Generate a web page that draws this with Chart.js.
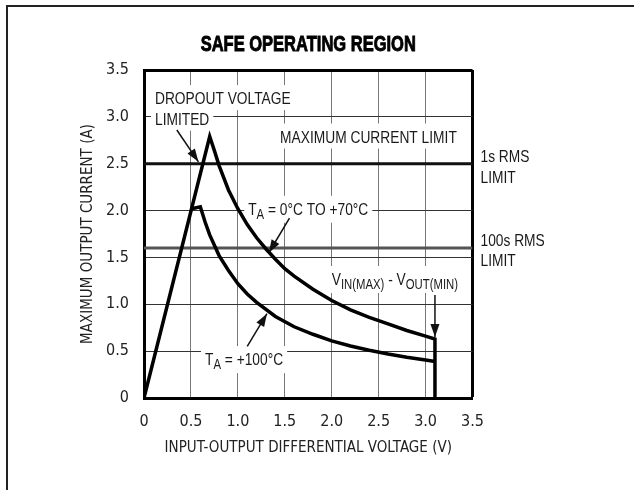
<!DOCTYPE html>
<html>
<head>
<meta charset="utf-8">
<script src="https://cdn.jsdelivr.net/npm/chart.js@4.4.1/dist/chart.umd.min.js"></script>
<style>
  body { margin: 0; background: #fff; }
  #frame { position: absolute; left: 6px; top: 5px; right: 0; bottom: 0; border-top: 2px solid #222; border-left: 2px solid #222; }
  #soa { position: absolute; left: 0; top: 0; }
</style>
</head>
<body>
<div id="frame"></div>
<canvas id="soa" width="634" height="490"></canvas>
<script>
const FONT = "'DejaVu Sans Condensed', 'Liberation Sans', sans-serif";
const NOTE_FONT = "'Liberation Sans', Arial, sans-serif";
const TITLE = "SAFE OPERATING REGION";

// axis ticks
const xTicks = [0, 0.5, 1, 1.5, 2, 2.5, 3, 3.5];
const xTickLabels = ["0", "0.5", "1.0", "1.5", "2.0", "2.5", "3.0", "3.5"];
const yTicks = [0, 0.5, 1, 1.5, 2, 2.5, 3, 3.5];
const yTickLabels = ["0", "0.5", "1.0", "1.5", "2.0", "2.5", "3.0", "3.5"];

// TA = 0C to +70C curve (V, A)
const coolV = [0, 0.70, 0.75, 0.80, 0.90, 1.00, 1.10, 1.20, 1.30, 1.40, 1.50, 1.60, 1.80, 2.00, 2.20, 2.40, 2.60, 2.80, 3.00, 3.10, 3.10];
const coolI = [0, 2.79, 2.64, 2.48, 2.22, 2.02, 1.85, 1.71, 1.59, 1.48, 1.38, 1.30, 1.16, 1.04, 0.94, 0.86, 0.79, 0.72, 0.66, 0.63, 0];

// TA = +100C curve
const hotV = [0.51, 0.60, 0.65, 0.70, 0.80, 0.90, 1.00, 1.10, 1.20, 1.40, 1.60, 1.80, 2.00, 2.20, 2.40, 2.60, 2.80, 3.00, 3.10];
const hotI = [2.02, 2.04, 1.88, 1.74, 1.52, 1.36, 1.22, 1.11, 1.02, 0.87, 0.76, 0.68, 0.61, 0.555, 0.51, 0.47, 0.435, 0.405, 0.39];

// current limits (A)
const limit1s = 2.5;
const limit100s = 1.6;

// arrows: [x0, y0, x1, y1] in data units, head at the end
const arrows = [
  [0.35, 2.86, 0.58, 2.52],
  [1.55, 1.92, 1.33, 1.55],
  [1.10, 0.55, 1.31, 0.90],
  [3.10, 1.10, 3.10, 0.65]
];

// annotations: [x, y, parts, white box]; a part is [text, isSubscript]
const notes = [
  [0.117, 3.20, [["DROPOUT VOLTAGE"]], true],
  [0.117, 2.98, [["LIMITED"]], true],
  [1.45, 2.79, [["MAXIMUM CURRENT LIMIT"]], true],
  [1.11, 2.02, [["T"], ["A", 1], [" = 0°C TO +70°C"]], true],
  [2.00, 1.27, [["V"], ["IN(MAX)", 1], [" - V"], ["OUT(MIN)", 1]], true],
  [0.65, 0.415, [["T"], ["A", 1], [" = +100°C"]], true],
  [3.585, 2.58, [["1s RMS"]], false],
  [3.585, 2.36, [["LIMIT"]], false],
  [3.585, 1.69, [["100s RMS"]], false],
  [3.585, 1.47, [["LIMIT"]], false]
];

function pts(xs, ys) {
  return xs.map((x, i) => ({ x: x, y: ys[i] }));
}

const datasets = [
  { data: pts(coolV, coolI), borderColor: "#000", borderWidth: 3.5 },
  { data: pts(hotV, hotI), borderColor: "#000", borderWidth: 3.5 },
  { data: [{ x: 0, y: limit1s }, { x: 3.5, y: limit1s }], borderColor: "#111", borderWidth: 3 },
  { data: [{ x: 0, y: limit100s }, { x: 3.5, y: limit100s }], borderColor: "#555", borderWidth: 3 }
];
arrows.forEach(a => {
  datasets.push({ data: [{ x: a[0], y: a[1] }, { x: a[2], y: a[3] }], borderColor: "#111", borderWidth: 1.5, arrow: true });
});

// condensed look: draw the notes squeezed horizontally
const SQUEEZE = 0.81;

const notesPlugin = {
  id: "notes",
  beforeDatasetsDraw(chart) {
    const { ctx, scales } = chart;
    const big = "17px " + NOTE_FONT, small = "14px " + NOTE_FONT;
    ctx.save();
    notes.forEach(n => {
      const px = scales.x.getPixelForValue(n[0]);
      const py = scales.y.getPixelForValue(n[1]);
      ctx.font = big;
      const cap = ctx.measureText("H").actualBoundingBoxAscent;
      const base = py + cap / 2;
      let w = 0;
      let hasSub = false;
      n[2].forEach(p => {
        ctx.font = p[1] ? small : big;
        w += ctx.measureText(p[0]).width;
        if (p[1]) hasSub = true;
      });
      if (n[3]) {
        ctx.fillStyle = "#fff";
        const top = base - cap - 7;
        const bot = base + (hasSub ? 8 : 6);
        ctx.fillRect(px - 4, top, w * SQUEEZE + 8, bot - top);
      }
      ctx.save();
      ctx.translate(px, 0);
      ctx.scale(SQUEEZE, 1);
      ctx.fillStyle = "#1a1a1a";
      ctx.textBaseline = "alphabetic";
      ctx.textAlign = "left";
      let cx = 0;
      n[2].forEach(p => {
        ctx.font = p[1] ? small : big;
        ctx.fillText(p[0], cx, p[1] ? base + 4 : base);
        cx += ctx.measureText(p[0]).width;
      });
      ctx.restore();
    });
    ctx.restore();
  },
  afterDatasetsDraw(chart) {
    const ctx = chart.ctx;
    ctx.save();
    ctx.fillStyle = "#111";
    chart.data.datasets.forEach((ds, i) => {
      if (!ds.arrow) return;
      const pt = chart.getDatasetMeta(i).data;
      const a = pt[0], b = pt[1];
      const ang = Math.atan2(b.y - a.y, b.x - a.x);
      const len = 13, half = 4.5;
      ctx.beginPath();
      ctx.moveTo(b.x, b.y);
      ctx.lineTo(b.x - len * Math.cos(ang) + half * Math.sin(ang), b.y - len * Math.sin(ang) - half * Math.cos(ang));
      ctx.lineTo(b.x - len * Math.cos(ang) - half * Math.sin(ang), b.y - len * Math.sin(ang) + half * Math.cos(ang));
      ctx.closePath();
      ctx.fill();
    });
    ctx.restore();
  },
  afterDraw(chart) {
    // heavy condensed title centred over the plot
    const { ctx, chartArea } = chart;
    ctx.save();
    ctx.translate((chartArea.left + chartArea.right) / 2, 0);
    ctx.scale(0.75, 1);
    ctx.font = "bold 22px " + NOTE_FONT;
    ctx.textAlign = "center";
    ctx.textBaseline = "alphabetic";
    ctx.fillStyle = "#000";
    ctx.strokeStyle = "#000";
    ctx.lineWidth = 0.9;
    ctx.fillText(TITLE, 0, 51);
    ctx.strokeText(TITLE, 0, 51);
    ctx.restore();
  }
};

new Chart(document.getElementById("soa").getContext("2d"), {
  type: "line",
  data: { datasets: datasets },
  options: {
    responsive: false,
    animation: false,
    events: [],
    elements: { point: { radius: 0 }, line: { tension: 0 } },
    layout: { padding: { left: 74, right: 161.5, top: 70, bottom: 33 } },
    plugins: {
      legend: { display: false },
      tooltip: { enabled: false },
      title: { display: false }
    },
    scales: {
      x: {
        type: "linear",
        min: 0,
        max: 3.5,
        afterFit: s => { s.height = 59; },
        afterBuildTicks: s => { s.ticks = xTicks.map(v => ({ value: v })); },
        ticks: {
          padding: 14,
          color: "#222",
          maxRotation: 0,
          autoSkip: false,
          font: { family: FONT, size: 16 },
          callback: v => xTickLabels[xTicks.indexOf(v)]
        },
        grid: {
          drawTicks: false,
          color: c => c.tick && c.tick.value === 3.5 ? "#000" : "#777",
          lineWidth: c => c.tick && c.tick.value === 3.5 ? 3 : 1
        },
        border: { display: true, color: "#000", width: 3 },
        title: {
          display: true,
          text: "INPUT-OUTPUT DIFFERENTIAL VOLTAGE (V)",
          color: "#222",
          font: { family: FONT, size: 15 },
          padding: { top: 0, bottom: 0 }
        }
      },
      y: {
        type: "linear",
        min: 0,
        max: 3.5,
        afterFit: s => { s.width = 70; },
        afterBuildTicks: s => { s.ticks = yTicks.map(v => ({ value: v })); },
        ticks: {
          padding: 15,
          color: "#222",
          autoSkip: false,
          font: { family: FONT, size: 16 },
          callback: v => yTickLabels[yTicks.indexOf(v)]
        },
        grid: {
          drawTicks: false,
          color: c => c.tick && c.tick.value === 3.5 ? "#000" : "#333",
          lineWidth: c => c.tick && c.tick.value === 3.5 ? 3 : 1
        },
        border: { display: true, color: "#000", width: 3 },
        title: {
          display: true,
          text: "MAXIMUM OUTPUT CURRENT (A)",
          color: "#222",
          font: { family: FONT, size: 15 },
          padding: { top: 5, bottom: 0 }
        }
      }
    }
  },
  plugins: [notesPlugin]
});
</script>
</body>
</html>
